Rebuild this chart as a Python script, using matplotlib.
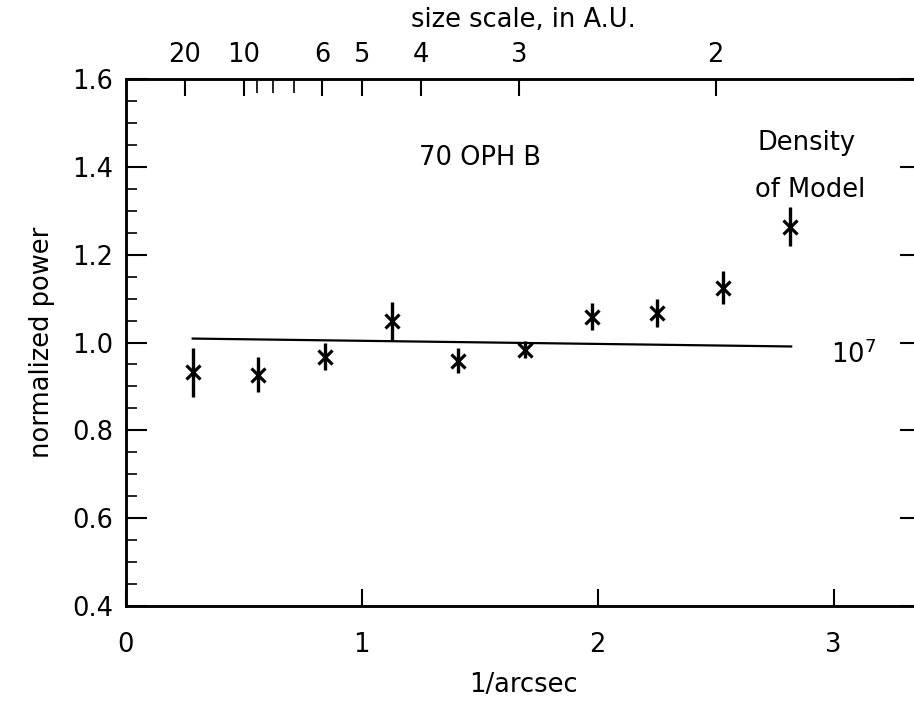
import numpy as np
import matplotlib
matplotlib.use('Agg')
import matplotlib.pyplot as plt

# measured power spectrum, 70 Oph B
freq = [0.284, 0.562, 0.843, 1.127, 1.410, 1.693, 1.975, 2.252, 2.532, 2.815]
power = [0.932, 0.927, 0.968, 1.048, 0.959, 0.984, 1.059, 1.068, 1.125, 1.264]
power_err = [0.055, 0.039, 0.030, 0.045, 0.028, 0.019, 0.030, 0.032, 0.037, 0.044]

# model (density 10^7) line endpoints
model_freq = [0.284, 2.82]
model_power = [1.009, 0.991]

# top axis: size scale in A.U. (size = 5 / freq)
au_major = [20, 10, 6, 5, 4, 3, 2]
au_minor = [9, 8, 7]
au_const = 5.0

plt.rcParams['font.family'] = 'DejaVu Sans'
plt.rcParams['font.size'] = 18.5

fig = plt.figure(figsize=(9.14, 7.05), dpi=100)
ax = fig.add_axes([0.1375, 0.1404, 0.8701, 0.7475])

ax.plot(model_freq, model_power, color='black', lw=1.6)
ax.errorbar(freq, power, yerr=power_err, fmt='none', ecolor='black', elinewidth=2.4, capsize=0)
ax.plot(freq, power, 'x', color='black', ms=9.5, mew=2.3)

ax.set_xlim(0, 3.37)
ax.set_ylim(0.4, 1.6)
ax.set_xticks([0, 1, 2, 3])
ax.set_yticks([0.4, 0.6, 0.8, 1.0, 1.2, 1.4, 1.6])
ax.set_yticks(np.arange(0.4, 1.6001, 0.05), minor=True)
ax.set_yticklabels(['0.4', '0.6', '0.8', '1.0', '1.2', '1.4', '1.6'])

ax.tick_params(axis='x', which='major', direction='in', length=12, width=1.5, pad=19, top=False)
ax.tick_params(axis='y', which='major', direction='in', length=15, width=1.5, pad=9, right=True)
ax.tick_params(axis='y', which='minor', direction='in', length=8, width=1.2, right=False)
for s in ax.spines.values():
    s.set_linewidth(1.8)

ax.set_xlabel('1/arcsec', labelpad=10)
ax.set_ylabel('normalized power', labelpad=12)

ax.text(1.5, 1.42, '70 OPH B', ha='center', va='center')
ax.text(2.885, 1.455, 'Density', ha='center', va='center')
ax.text(2.90, 1.348, 'of Model', ha='center', va='center')
ax.text(2.99, 0.972, '10$^7$', ha='left', va='center')

top = ax.twiny()
top.set_xlim(ax.get_xlim())
top.set_xticks([au_const / s for s in au_major])
top.set_xticklabels([str(s) for s in au_major])
top.set_xticks([au_const / s for s in au_minor], minor=True)
top.tick_params(axis='x', which='major', direction='in', length=12, width=1.5, pad=8)
top.tick_params(axis='x', which='minor', direction='in', length=10, width=1.2)
top.set_xlabel('size scale, in A.U.', labelpad=11)
for s in top.spines.values():
    s.set_linewidth(1.8)

fig.savefig('out.png', dpi=100)
